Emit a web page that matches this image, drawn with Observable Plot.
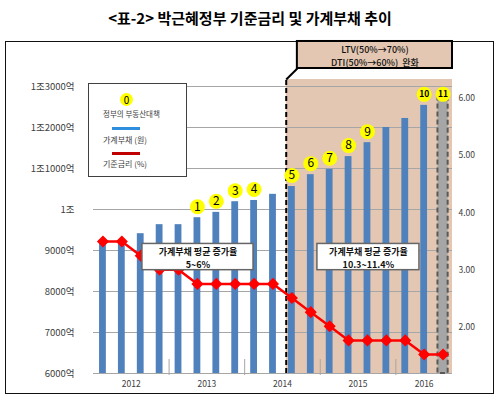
<!DOCTYPE html>
<html><head><meta charset="utf-8">
<script src="https://cdn.jsdelivr.net/npm/d3@7"></script>
<script src="https://cdn.jsdelivr.net/npm/@observablehq/plot@0.6"></script>
<style>
  body{margin:0;background:#fff;font-family:'Noto Sans CJK KR','Noto Sans',sans-serif;}
  #wrap{position:relative;width:500px;height:402px;overflow:hidden;}
  #title{position:absolute;left:0;top:0;width:500px;height:36px;line-height:36px;text-align:center;font-weight:700;font-size:15px;color:#000;}
  #frame{position:absolute;left:5px;top:41px;width:489px;height:353px;box-sizing:border-box;border:1.5px solid #111;}
  #chart{position:absolute;left:0;top:36px;}
  #legend{position:absolute;left:88px;top:83px;width:99px;height:94px;box-sizing:border-box;border:1px solid #404040;background:#fff;color:#404040;}
  #legend .c{position:absolute;left:31px;top:9px;width:13px;height:13px;border-radius:50%;background:#ffff00;color:#000;font-size:10px;line-height:13px;text-align:center;}
  #legend .t{position:absolute;left:14px;white-space:nowrap;line-height:10px;}
  #legend .l{position:absolute;left:23px;width:28px;height:2.5px;}
</style>
</head><body>
<div id="wrap">
  <div id="frame"></div>
  <div id="title"></div>
  <div id="chart"></div>
  <div id="legend"></div>
</div>
<script>
// ---- data ----
const quarters = ["2012Q1","2012Q2","2012Q3","2012Q4","2013Q1","2013Q2","2013Q3","2013Q4",
  "2014Q1","2014Q2","2014Q3","2014Q4","2015Q1","2015Q2","2015Q3","2015Q4","2016Q1","2016Q2","2016Q3"];
const debt = [9170,9180,9410,9630,9630,9800,9930,10190,10220,10370,10560,10850,10980,11290,11630,12000,12220,12540,12710]; // 억
const rate = [3.25,3.25,3.00,2.75,2.75,2.50,2.50,2.50,2.50,2.50,2.25,2.00,1.75,1.50,1.50,1.50,1.50,1.25,1.25]; // %
const years = ["2012","2013","2014","2015","2016"];
const debtTicks = [6000,7000,8000,9000,10000,11000,12000,13000];
const debtTickLabels = ["6000억","7000억","8000억","9000억","1조","1조1000억","1조2000억","1조3000억"];
const rateTicks = [2,3,4,5,6];
const policyQuarters = ["2013Q2","2013Q3","2013Q4","2014Q1","2014Q3","2014Q4","2015Q1","2015Q2","2015Q3","2016Q2","2016Q3"];
const policyLabels = ["1","2","3","4","5","6","7","8","9","10","11"];
const ltvStart = "2014Q3";
const ltvNote = "LTV(50%→70%)\nDTI(50%→60%)  완화";
const growthNotes = ["가계부채 평균 증가율\n5~6%", "가계부채 평균 증가율\n10.3~11.4%"];
const titleText = "<표-2> 박근혜정부 기준금리 및 가계부채 추이";
const legendLabels = ["정부의 부동산대책","가계부채 (원)","기준금리 (%)"];

// ---- helpers ----
const idx = d3.range(quarters.length);
const qi = q => quarters.indexOf(q);
const yearOf = i => quarters[i].slice(0,4);
// secondary (rate) axis mapped onto debt scale
const rateToDebt = r => 6463 + (r - 1.25) * 1378;
const rateAxisPos = r => 9917 + (r - 4) * 1395;
const rateAxisInv = d => (d - 9917) / 1395 + 4;

const yearBreaks = idx.filter(i => i > 0 && yearOf(i) !== yearOf(i-1)).map(i => i - 0.5);
const yearCenters = years.map(y => ({y, x: d3.mean(idx.filter(i => yearOf(i) === y))}));
const policy = policyQuarters.map((q,k) => ({q: qi(q), label: policyLabels[k]}));
const small = policy.filter(d => d.label.length > 1);
const big = policy.filter(d => d.label.length === 1);
const levelTop = debt[qi(policyQuarters[policyQuarters.length-2])];

// annotation layout (data coordinates)
const ls = qi(ltvStart) - 0.3;
const shadeTop = 13170;
const ltvBox = {x1: qi(ltvStart) + 0.29, x2: 18.5, y1: 13439, y2: 14098};
const noteBoxes = [
  {x1: 2.09, x2: 7.97, y1: 8520, y2: 9160, text: growthNotes[0]},
  {x1: 11.35, x2: 16.75, y1: 8520, y2: 9160, text: growthNotes[1]}
];

document.getElementById("title").textContent = titleText;

const plot = Plot.plot({
  width: 500, height: 366,
  marginLeft: 93, marginRight: 48, marginTop: 50, marginBottom: 29,
  style: {background: "transparent", fontFamily: "'Noto Sans CJK KR','Noto Sans',sans-serif", overflow: "visible"},
  x: {type: "linear", domain: [-0.5, 18.5], axis: null},
  y: {type: "linear", domain: [6000, 13000], axis: null},
  marks: [
    Plot.rect([0], {x1: () => ls, x2: () => 18.5, y1: () => 6000, y2: () => shadeTop, fill: "#e4c7b2"}),
    Plot.gridY(debtTicks, {stroke: "#a6a6a6", strokeOpacity: 1, strokeWidth: 1}),
    Plot.ruleX(yearBreaks, {y1: () => 5950, y2: () => 6340, stroke: "#a6a6a6"}),
    Plot.rect(idx.slice(0, idx.length - 1), {x1: i => i - 0.18, x2: i => i + 0.18, y1: () => 6000, y2: i => debt[i], fill: "#4f81bd"}),
    Plot.rect([idx.length - 1], {x1: i => i - 0.27, x2: i => i + 0.27, y1: () => 6000, y2: i => debt[i], fill: "#a6a6a6", stroke: "#595959", strokeWidth: 2, strokeDasharray: "5,3"}),
    Plot.ruleX([ls], {y1: () => 6000, y2: () => shadeTop, stroke: "#000", strokeWidth: 2, strokeDasharray: "5,3"}),
    Plot.link([0], {x1: () => ls, y1: () => shadeTop, x2: () => ltvBox.x1, y2: () => ltvBox.y1, stroke: "#000", strokeWidth: 2}),
    Plot.line(idx, {x: i => i, y: i => rateToDebt(rate[i]), stroke: "#ff0000", strokeWidth: 2.5}),
    Plot.dot(idx, {x: i => i, y: i => rateToDebt(rate[i]), symbol: "diamond2", r: 4.5, fill: "#ff0000", stroke: "#ff0000"}),
    Plot.rect(noteBoxes, {x1: "x1", x2: "x2", y1: "y1", y2: "y2", fill: "#fff", stroke: "#666", strokeWidth: 1.5}),
    Plot.text(noteBoxes, {x: d => (d.x1 + d.x2) / 2, y: d => (d.y1 + d.y2) / 2, text: "text", fontSize: 9, fontWeight: 700, lineHeight: 1.48, fill: "#111", style: "letter-spacing:1.2px"}),
    Plot.rect([ltvBox], {x1: "x1", x2: "x2", y1: "y1", y2: "y2", fill: "#e4c7b2", stroke: "#000", strokeWidth: 2}),
    Plot.text([ltvBox], {x: d => (d.x1 + d.x2) / 2, y: d => (d.y1 + d.y2) / 2, text: () => ltvNote, fontSize: 9, fontWeight: 500, lineHeight: 1.48, fill: "#111"}),
    Plot.dot(big, {x: "q", y: d => debt[d.q], dy: -11, r: 7.5, fill: "#ffff00"}),
    Plot.text(big, {x: "q", y: d => debt[d.q], dy: -11, text: "label", fontSize: 12, fill: "#000"}),
    Plot.dot(small, {x: "q", y: () => levelTop, dy: -11, r: 7.5, fill: "#ffff00"}),
    Plot.text(small, {x: "q", y: () => levelTop, dy: -11, text: "label", fontSize: 8.5, fontWeight: 700, fill: "#000"}),
    Plot.axisY(debtTicks, {anchor: "left", tickSize: 0, tickPadding: 19, fontSize: 9.5, color: "#404040",
      tickFormat: d => debtTickLabels[debtTicks.indexOf(d)]}),
    Plot.axisY(rateTicks.map(rateAxisPos), {anchor: "right", tickSize: 0, tickPadding: 6, fontSize: 8.5, color: "#404040",
      tickFormat: d => rateAxisInv(d).toFixed(2)}),
    Plot.text(yearCenters, {x: "x", y: () => 6000, dy: 11, text: "y", fontSize: 8.5, fill: "#404040"})
  ]
});
document.getElementById("chart").appendChild(plot);

// legend
const lg = document.getElementById("legend");
lg.innerHTML =
  `<div class="c">0</div>` +
  `<div class="t" style="top:25px;font-size:7.5px">${legendLabels[0]}</div>` +
  `<div class="l" style="top:43px;background:#2f8fde"></div>` +
  `<div class="t" style="top:51px;font-size:8px">${legendLabels[1]}</div>` +
  `<div class="l" style="top:68px;background:#c00000"></div>` +
  `<div class="t" style="top:75px;font-size:8px">${legendLabels[2]}</div>`;
</script>
</body></html>
